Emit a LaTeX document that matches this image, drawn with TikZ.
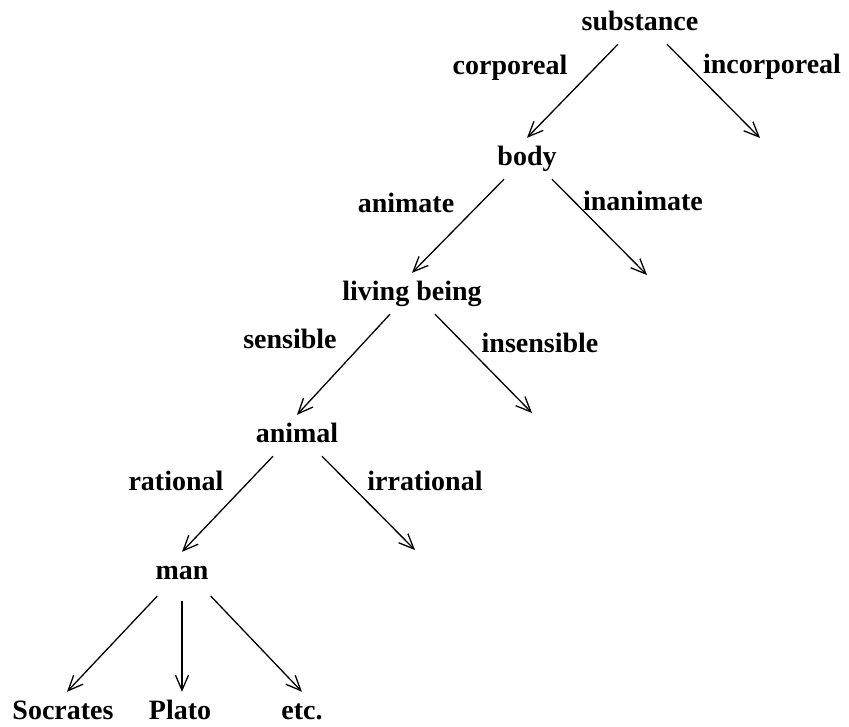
\documentclass[tikz,border=0pt]{standalone}
\usepackage{fontspec}
\setmainfont{Liberation Serif}
\usetikzlibrary{arrows.meta,positioning}

\begin{document}
\begin{tikzpicture}[
    x=1pt, y=-1pt,
    term/.style={font=\fontsize{28}{34}\selectfont\bfseries, inner sep=7pt,
                 text height=20pt, text depth=7pt, anchor=base},
    lbl/.style={font=\fontsize{28}{34}\selectfont\bfseries, inner sep=0pt,
                anchor=base},
    arrow/.style={-{Straight Barb[length=15pt,width=13pt]}, line width=1.3pt},
]
\useasboundingbox (0,0) rectangle (849,726);

% the chain of genera
\node[term] (substance) at (640,30) {substance};
\node[term] (body) at (527,165) {body};
\node[term] (living) at (412,300) {living being};
\node[term] (animal) at (297,442) {animal};
\node[term] (man) at (182,579) {man};

% individuals
\node[term] (socrates) at (63,719) {Socrates};
\node[term] (plato) at (180,719) {Plato};
\node[term] (etc) at (302,719) {etc.};

% differentiae
\node[lbl] (corporeal) at (510,74) {corporeal};
\node[lbl] (incorporeal) at (772,73) {incorporeal};
\node[lbl] (animate) at (406,212) {animate};
\node[lbl] (inanimate) at (643,210) {inanimate};
\node[lbl] (sensible) at (290,348) {sensible};
\node[lbl] (insensible) at (540,352) {insensible};
\node[lbl] (rational) at (176,490) {rational};
\node[lbl] (irrational) at (425,490) {irrational};

% open ends of the right branches
\coordinate (incorp) at (760,138);
\coordinate (inanim) at (647,275);
\coordinate (insens) at (532,413);
\coordinate (irrat) at (415,550);

\draw[arrow] ([xshift=-22pt]substance.south) -- (body.north);
\draw[arrow] ([xshift=27pt]substance.south) -- (incorp);
\draw[arrow] ([xshift=-23pt]body.south) -- (living.north);
\draw[arrow] ([xshift=25pt]body.south) -- (inanim);
\draw[arrow] ([xshift=-22pt]living.south) -- (animal.north);
\draw[arrow] ([xshift=23pt]living.south) -- (insens);
\draw[arrow] ([xshift=-24pt]animal.south) -- (man.north);
\draw[arrow] ([xshift=25pt]animal.south) -- (irrat);
\draw[arrow,shorten <=4pt] ([xshift=-22pt]man.south) -- ([xshift=4pt]socrates.north);
\draw[arrow,shorten <=8pt] (man.south) -- (man.south |- plato.north);
\draw[arrow,shorten <=4pt] ([xshift=26pt]man.south) -- (etc.north);

\end{tikzpicture}
\end{document}
